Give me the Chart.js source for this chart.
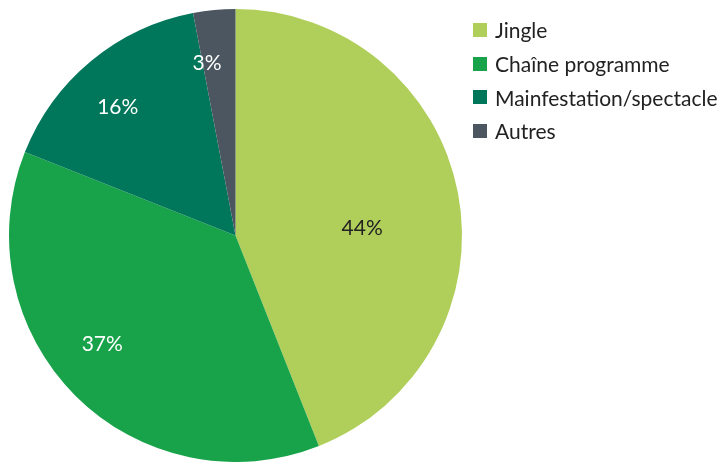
<!DOCTYPE html>
<html>
<head>
<meta charset="utf-8">
<script src="https://cdn.jsdelivr.net/npm/chart.js@4/dist/chart.umd.min.js"></script>
<style>
  html, body { margin: 0; padding: 0; background: #fff; }
  #wrap { position: relative; width: 726px; height: 462px; }
  #legend { position: absolute; left: 473px; top: 13px; font-family: Lato, sans-serif; font-size: 21px; color: #222; }
  #legend div { height: 33.7px; display: flex; align-items: center; white-space: nowrap; }
  #legend span.box { width: 14px; height: 14px; margin-right: 8px; display: inline-block; }
</style>
</head>
<body>
<div id="wrap">
  <canvas id="pie" width="726" height="462"></canvas>
  <div id="legend"></div>
</div>
<script>
// Data
const categories = ['Jingle', 'Chaîne programme', 'Mainfestation/spectacle', 'Autres'];
const shares = [44, 37, 16, 3];
const sliceColors = ['#b0ce5a', '#18a34a', '#00765a', '#4b5660'];
const labelColors = ['#222222', '#ffffff', '#ffffff', '#ffffff'];

// label placement: fraction of radius and angle nudge (radians) per slice
const labelRadius = [0.56, 0.76, 0.77, 0.77];
const labelNudge = [0.13, 0.1, -0.05, -0.07];

const legend = document.getElementById('legend');
categories.forEach((name, i) => {
    const row = document.createElement('div');
    row.innerHTML = '<span class="box" style="background:' + sliceColors[i] + '"></span>' + name;
    legend.appendChild(row);
});

const pctLabels = {
    id: 'pctLabels',
    afterDatasetsDraw(chart) {
        const ctx = chart.ctx;
        const meta = chart.getDatasetMeta(0);
        ctx.save();
        ctx.font = '21px Lato, sans-serif';
        ctx.textAlign = 'center';
        ctx.textBaseline = 'middle';
        meta.data.forEach((arc, i) => {
            const mid = (arc.startAngle + arc.endAngle) / 2 + labelNudge[i];
            const r = arc.outerRadius * labelRadius[i];
            ctx.fillStyle = labelColors[i];
            ctx.fillText(shares[i] + '%', arc.x + Math.cos(mid) * r, arc.y + Math.sin(mid) * r);
        });
        ctx.restore();
    }
};

new Chart(document.getElementById('pie'), {
    type: 'pie',
    data: {
        labels: categories,
        datasets: [{
            data: shares,
            backgroundColor: sliceColors,
            borderWidth: 0
        }]
    },
    options: {
        responsive: false,
        animation: false,
        layout: { padding: { left: 9, top: 9, right: 264, bottom: 0 } },
        plugins: {
            legend: { display: false },
            tooltip: { enabled: false }
        }
    },
    plugins: [pctLabels]
});
</script>
</body>
</html>
